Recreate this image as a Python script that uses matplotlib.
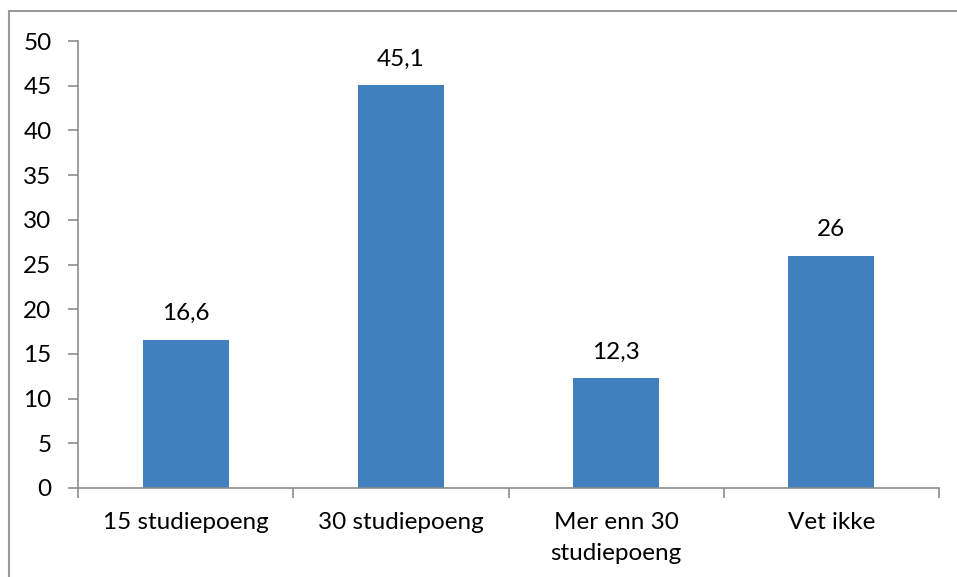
import matplotlib
matplotlib.use("Agg")
import matplotlib.pyplot as plt
from matplotlib.patches import Rectangle

categories = ["15 studiepoeng", "30 studiepoeng", "Mer enn 30\nstudiepoeng", "Vet ikke"]
values = [16.6, 45.1, 12.3, 26]
labels = ["16,6", "45,1", "12,3", "26"]
yticks = [0, 5, 10, 15, 20, 25, 30, 35, 40, 45, 50]

plt.rcParams['font.family'] = ['Lato', 'DejaVu Sans']
FS = 17.5
W, H = 957, 577
fig = plt.figure(figsize=(W/100, H/100), dpi=100)
ax = fig.add_axes([78/W, 1-488/H, (939-78)/W, (488-41)/H])

x = list(range(len(categories)))
ax.bar(x, values, width=0.4, color="#4180BF", zorder=2)
for xi, v, l in zip(x, values, labels):
    ax.annotate(l, (xi, v), xytext=(0, 11), textcoords="offset points",
                ha="center", va="bottom", fontsize=FS, color="black")

ax.set_xlim(-0.5, len(categories)-0.5)
ax.set_ylim(0, 50)
ax.set_yticks(yticks)
ax.set_yticklabels([str(t) for t in yticks], fontsize=FS)
ax.set_xticks(x)
ax.set_xticklabels(categories, fontsize=FS, linespacing=1.6)
ax.set_xticks([i - 0.5 for i in range(len(categories)+1)], minor=True)
ax.tick_params(axis='x', which='major', length=0, pad=17)
ax.tick_params(axis='x', which='minor', length=7, color="#8C8C8C", width=1.2, direction='out')
ax.tick_params(axis='y', length=7, color="#8C8C8C", width=1.2, pad=12)
for s in ['top', 'right']:
    ax.spines[s].set_visible(False)
for s in ['left', 'bottom']:
    ax.spines[s].set_color("#8C8C8C")
    ax.spines[s].set_linewidth(1.2)

fig.patches.append(Rectangle((9/W, -0.1), 1.2, 1 - 11/H + 0.1, transform=fig.transFigure,
                             fill=False, edgecolor="#9A9A9A", linewidth=1.5))
fig.savefig("out.png", dpi=100)
